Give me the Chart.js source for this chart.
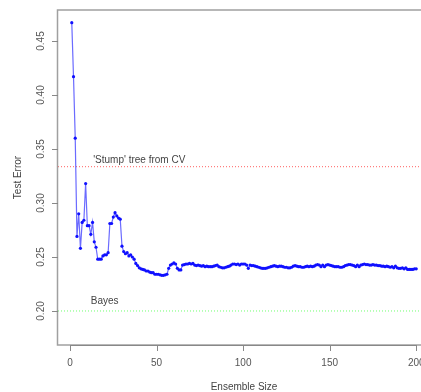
<!DOCTYPE html>
<html>
<head>
<meta charset="utf-8">
<script src="https://cdn.jsdelivr.net/npm/chart.js@4/dist/chart.umd.min.js"></script>
<style>
  html, body { margin: 0; padding: 0; overflow: hidden; background: #fff; }
  #wrap { width: 440px; height: 392px; }
</style>
</head>
<body>
<div id="wrap"><canvas id="errChart" width="440" height="392"></canvas></div>
<script>
// =============================================
// DATA
// =============================================
const testError = [
  0.467, 0.417, 0.360, 0.269, 0.290, 0.258, 0.282, 0.284, 0.318, 0.279,
  0.279, 0.271, 0.282, 0.264, 0.259, 0.248, 0.248, 0.248, 0.251, 0.252,
  0.252, 0.254, 0.281, 0.281, 0.287, 0.291, 0.288, 0.286, 0.285, 0.260,
  0.255, 0.253, 0.254, 0.251, 0.252, 0.250, 0.248, 0.244, 0.242, 0.240,
  0.239, 0.2385, 0.238, 0.237, 0.237, 0.236, 0.2355, 0.2355, 0.234, 0.234,
  0.234, 0.2335, 0.233, 0.233, 0.2335, 0.234, 0.2395, 0.2425, 0.2435, 0.2445,
  0.2435, 0.2395, 0.238, 0.238, 0.2425, 0.243, 0.2435, 0.2435, 0.244, 0.2435,
  0.244, 0.2425, 0.242, 0.2425, 0.242, 0.2415, 0.242, 0.241, 0.2415, 0.241,
  0.241, 0.241, 0.2415, 0.242, 0.2425, 0.241, 0.2405, 0.240, 0.240, 0.2405,
  0.241, 0.2415, 0.2425, 0.2435, 0.2435, 0.243, 0.2435, 0.2425, 0.2435, 0.2435,
  0.2435, 0.2425, 0.2395, 0.2425, 0.242, 0.242, 0.2415, 0.241, 0.2405, 0.240,
  0.2395, 0.2395, 0.2395, 0.240, 0.2405, 0.241, 0.2415, 0.242, 0.2415, 0.241,
  0.2415, 0.2415, 0.241, 0.2405, 0.2405, 0.240, 0.240, 0.2405, 0.2415, 0.242,
  0.2415, 0.241, 0.241, 0.2405, 0.2405, 0.241, 0.2415, 0.241, 0.2415, 0.241,
  0.2415, 0.2425, 0.243, 0.2425, 0.241, 0.2425, 0.241, 0.2425, 0.243, 0.2425,
  0.242, 0.2415, 0.241, 0.241, 0.241, 0.2405, 0.2405, 0.241, 0.242, 0.2425,
  0.243, 0.243, 0.2425, 0.242, 0.241, 0.2425, 0.241, 0.2425, 0.243, 0.2435,
  0.243, 0.243, 0.2425, 0.2425, 0.243, 0.2425, 0.2425, 0.242, 0.242, 0.2415,
  0.2415, 0.241, 0.2415, 0.241, 0.2405, 0.241, 0.240, 0.2415, 0.240, 0.2395,
  0.2395, 0.240, 0.239, 0.240, 0.2385, 0.2385, 0.2385, 0.2385, 0.239, 0.239
];
const ensembleSize = testError.map((_, i) => i + 1);

const stumpError = 0.3336;
const bayesError = 0.20;

const xTicks = [0, 50, 100, 150, 200];
const yTicks = [0.20, 0.25, 0.30, 0.35, 0.40, 0.45];

const xLimits = [-6.96, 207.96];
const yLimits = [0.1685, 0.4787];

// =============================================
// R-STYLE AXES / LABELS PLUGIN
// =============================================
const FONT = '10px "Liberation Sans", Arial, sans-serif';
const INK = '#555';

const rAxes = {
  id: 'rAxes',
  afterDraw(chart) {
    const { ctx, chartArea: a, scales: { x, y } } = chart;
    ctx.save();

    // box
    ctx.strokeStyle = '#a0a0a0';
    ctx.lineWidth = 1.5;
    ctx.strokeRect(a.left - 0.5, a.top, a.right - a.left, a.bottom - a.top);

    ctx.strokeStyle = '#888';
    ctx.lineWidth = 1;
    ctx.fillStyle = INK;
    ctx.font = FONT;

    // x axis
    ctx.beginPath();
    ctx.moveTo(x.getPixelForValue(xTicks[0]), a.bottom + 0.5);
    ctx.lineTo(x.getPixelForValue(xTicks[xTicks.length - 1]), a.bottom + 0.5);
    xTicks.forEach(t => {
      const px = Math.round(x.getPixelForValue(t)) + 0.5;
      ctx.moveTo(px, a.bottom);
      ctx.lineTo(px, a.bottom + 6);
    });
    ctx.stroke();
    ctx.textAlign = 'center';
    ctx.textBaseline = 'middle';
    xTicks.forEach(t => ctx.fillText(String(t), x.getPixelForValue(t), a.bottom + 18));

    // y axis
    ctx.beginPath();
    yTicks.forEach(t => {
      const py = Math.round(y.getPixelForValue(t)) + 0.5;
      ctx.moveTo(a.left - 6, py);
      ctx.lineTo(a.left, py);
    });
    ctx.stroke();
    yTicks.forEach(t => {
      ctx.save();
      ctx.translate(a.left - 17, y.getPixelForValue(t));
      ctx.rotate(-Math.PI / 2);
      ctx.fillText(t.toFixed(2), 0, 0);
      ctx.restore();
    });

    // axis titles
    ctx.fillStyle = '#444';
    ctx.fillText('Ensemble Size', (x.getPixelForValue(xLimits[0]) + x.getPixelForValue(xLimits[1])) / 2, a.bottom + 42);
    ctx.save();
    ctx.translate(18, (a.top + a.bottom) / 2);
    ctx.rotate(-Math.PI / 2);
    ctx.fillText('Test Error', 0, 0);
    ctx.restore();

    // annotations
    ctx.fillText("'Stump' tree from CV", x.getPixelForValue(40), y.getPixelForValue(0.340));
    ctx.fillText('Bayes', x.getPixelForValue(20), y.getPixelForValue(0.209));

    ctx.restore();
  }
};

// =============================================
// CHART
// =============================================
new Chart(document.getElementById('errChart').getContext('2d'), {
  type: 'line',
  data: {
    datasets: [
      {
        label: 'Test Error',
        data: ensembleSize.map((n, i) => ({ x: n, y: testError[i] })),
        borderColor: 'rgba(70,70,255,0.8)',
        borderWidth: 1.2,
        pointRadius: 1.6,
        pointBackgroundColor: '#1010ff',
        pointBorderColor: '#1010ff',
        pointBorderWidth: 0,
        tension: 0,
      },
      {
        label: 'Stump',
        data: [{ x: xLimits[0], y: stumpError }, { x: xLimits[1], y: stumpError }],
        borderColor: '#ff6060',
        borderWidth: 1,
        borderDash: [1, 2],
        pointRadius: 0,
      },
      {
        label: 'Bayes',
        data: [{ x: xLimits[0], y: bayesError }, { x: xLimits[1], y: bayesError }],
        borderColor: '#70ff70',
        borderWidth: 1,
        borderDash: [1, 2],
        pointRadius: 0,
      },
    ],
  },
  options: {
    responsive: false,
    animation: false,
    devicePixelRatio: 1,
    layout: { padding: { left: 58, top: 10, right: 10, bottom: 47 } },
    scales: {
      x: { type: 'linear', min: xLimits[0], max: xLimits[1], display: false },
      y: { type: 'linear', min: yLimits[0], max: yLimits[1], display: false },
    },
    plugins: { legend: { display: false }, tooltip: { enabled: false } },
  },
  plugins: [rAxes],
});
</script>
</body>
</html>
